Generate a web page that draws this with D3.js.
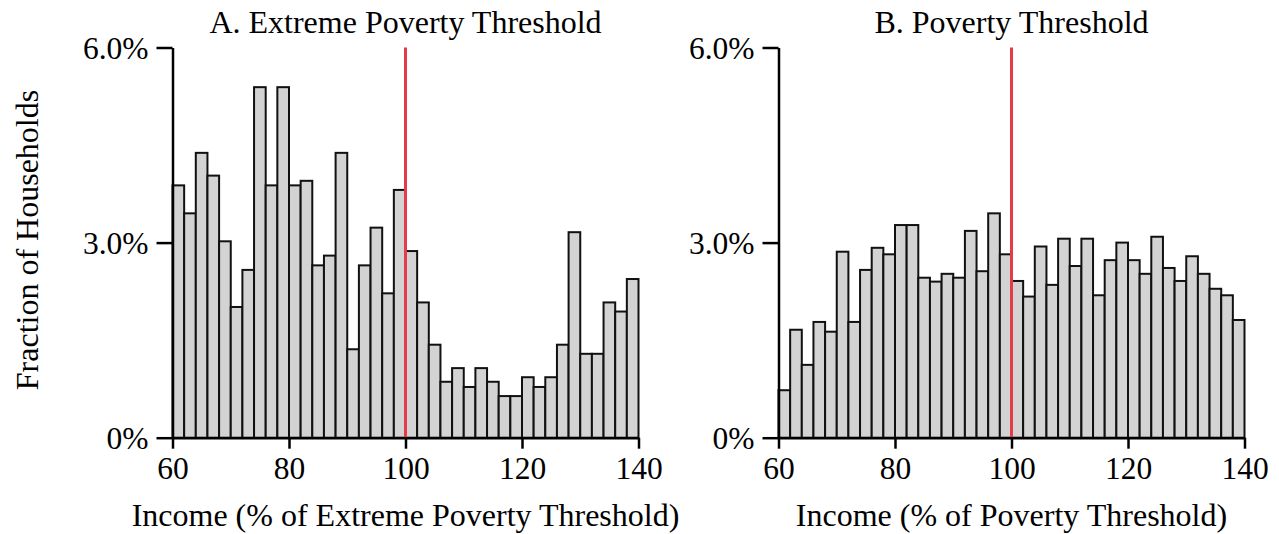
<!DOCTYPE html>
<html>
<head>
<meta charset="utf-8">
<script src="https://cdn.jsdelivr.net/npm/d3@7"></script>
<style>
  html, body { margin: 0; padding: 0; background: #fff; }
  svg text { font-family: "Liberation Serif", "Times New Roman", serif; fill: #000; }
</style>
</head>
<body>
<svg id="chart" width="1279" height="534"></svg>
<script>
// Bin starts (income %, bin width 2)
const binStarts = d3.range(60, 140, 2);
const binWidth = 2;

// Panel A: Extreme Poverty Threshold (percent of households)
const extremeValues = [
  3.88, 3.45, 4.38, 4.03, 3.02, 2.01, 2.58, 5.39, 3.88, 5.39,
  3.88, 3.95, 2.65, 2.80, 4.38, 1.36, 2.65, 3.23, 2.22, 3.81,
  2.87, 2.08, 1.43, 0.86, 1.07, 0.78, 1.07, 0.86, 0.64, 0.64,
  0.93, 0.78, 0.93, 1.43, 3.16, 1.29, 1.29, 2.08, 1.94, 2.44
];

// Panel B: Poverty Threshold (percent of households)
const povertyValues = [
  0.73, 1.66, 1.12, 1.78, 1.63, 2.86, 1.78, 2.58, 2.92, 2.82,
  3.27, 3.27, 2.46, 2.40, 2.52, 2.46, 3.18, 2.56, 3.45, 2.82,
  2.41, 2.17, 2.94, 2.35, 3.06, 2.64, 3.06, 2.19, 2.73, 3.00,
  2.73, 2.52, 3.09, 2.61, 2.41, 2.79, 2.52, 2.29, 2.19, 1.81
];

const xTicks = [60, 80, 100, 120, 140];
const yTicks = [0, 3, 6];
const yTickLabels = ["0%", "3.0%", "6.0%"];
const thresholdValue = 100;

const panels = [
  { title: "A. Extreme Poverty Threshold", xLabel: "Income (% of Extreme Poverty Threshold)", values: extremeValues, left: 172.5 },
  { title: "B. Poverty Threshold", xLabel: "Income (% of Poverty Threshold)", values: povertyValues, left: 778.5 }
];

const svg = d3.select("#chart");
const plotW = 466, plotTop = 47.5, plotBottom = 437.7;
const fontSize = 32;
const tickFontSize = 31.5;

const y = d3.scaleLinear().domain([0, 6]).range([plotBottom, plotTop]);

panels.forEach(p => {
  const x = d3.scaleLinear().domain([60, 140]).range([p.left, p.left + plotW]);
  const g = svg.append("g");

  // bars
  g.selectAll("rect.bar")
    .data(binStarts.map((s, i) => ({ s, v: p.values[i] })))
    .join("rect")
    .attr("class", "bar")
    .attr("x", d => x(d.s))
    .attr("width", d => x(d.s + binWidth) - x(d.s))
    .attr("y", d => y(d.v))
    .attr("height", d => y(0) - y(d.v))
    .attr("fill", "#d3d3d3")
    .attr("stroke", "#111")
    .attr("stroke-width", 2);

  // threshold line
  g.append("line")
    .attr("x1", x(thresholdValue)).attr("x2", x(thresholdValue))
    .attr("y1", y(6)).attr("y2", y(0))
    .attr("stroke", "#e6394a")
    .attr("stroke-width", 3);

  // x axis
  const xa = g.append("g")
    .attr("transform", `translate(0,${plotBottom})`)
    .call(d3.axisBottom(x).tickValues(xTicks).tickSize(11).tickSizeOuter(0).tickPadding(8));
  // y axis
  const ya = g.append("g")
    .attr("transform", `translate(${p.left},0)`)
    .call(d3.axisLeft(y).tickValues(yTicks).tickFormat((d, i) => yTickLabels[i]).tickSize(16).tickSizeOuter(0).tickPadding(8));

  [xa, ya].forEach(a => {
    a.select(".domain").attr("stroke", "#000").attr("stroke-width", 2.5);
    a.selectAll(".tick line").attr("stroke", "#000").attr("stroke-width", 2.5);
    a.selectAll(".tick text")
      .style("font-family", '"Liberation Serif", "Times New Roman", serif')
      .style("font-size", tickFontSize + "px")
      .attr("fill", "#000");
  });
  ya.selectAll(".tick text").attr("dy", "0.34em");

  // title
  g.append("text")
    .attr("x", p.left + plotW / 2)
    .attr("y", 33)
    .attr("text-anchor", "middle")
    .style("font-size", fontSize + "px")
    .text(p.title);

  // x label
  g.append("text")
    .attr("x", p.left + plotW / 2)
    .attr("y", 526)
    .attr("text-anchor", "middle")
    .style("font-size", fontSize + "px")
    .text(p.xLabel);
});

// y label
svg.append("text")
  .attr("transform", "translate(38,240) rotate(-90)")
  .attr("text-anchor", "middle")
  .style("font-size", fontSize + "px")
  .text("Fraction of Households");
</script>
</body>
</html>
